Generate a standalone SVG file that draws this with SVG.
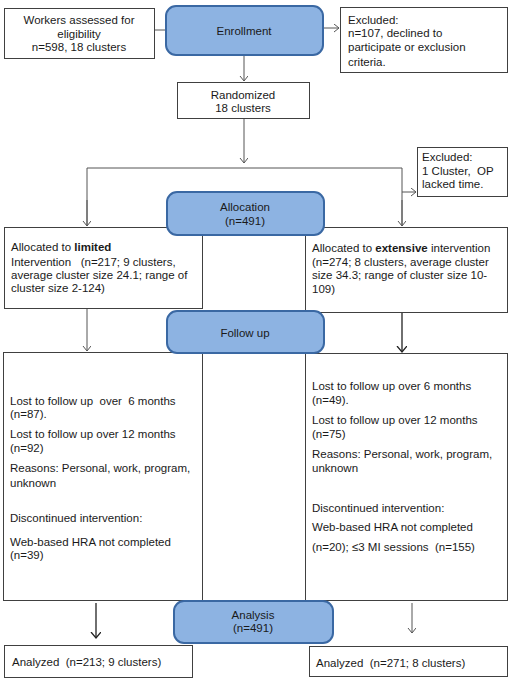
<svg xmlns="http://www.w3.org/2000/svg" width="510" height="679" viewBox="0 0 510 679">
<style>
.box{fill:#fff;stroke:#404040;stroke-width:1}
.blue{fill:#8db3e2;stroke:#3a68a3;stroke-width:2}
text{font-family:"Liberation Sans",Arial,sans-serif;font-size:11.5px;fill:#1a1a1a;white-space:pre}
.c{text-anchor:middle}
.ln{stroke:#555;stroke-width:1;fill:none}
.dk{stroke:#222;stroke-width:1.3;fill:none}
</style>
<defs>
<marker id="ah" markerUnits="userSpaceOnUse" markerWidth="10" markerHeight="10" refX="5" refY="4" orient="auto">
<path d="M0,0 L5,4 L0,8" fill="none" stroke="#555" stroke-width="1"/>
</marker>
<marker id="ahd" markerUnits="userSpaceOnUse" markerWidth="12" markerHeight="12" refX="6" refY="5" orient="auto">
<path d="M0,0 L6,5 L0,10" fill="none" stroke="#222" stroke-width="1.3"/>
</marker>
</defs>
<g id="workers"><rect class="box" x="4.5" y="8.5" width="150" height="50"/>
<text class="c" x="79" y="24">Workers assessed for</text>
<text class="c" x="79" y="38">eligibility</text>
<text class="c" x="79" y="51">n=598, 18 clusters</text></g>
<g id="excluded1"><rect class="box" x="340.5" y="7.5" width="167" height="65"/>
<text x="348" y="24">Excluded:</text>
<text x="348" y="37">n=107, declined to</text>
<text x="348" y="51">participate or exclusion</text>
<text x="348" y="66">criteria.</text></g>
<g id="randomized"><rect class="box" x="177.5" y="82.5" width="132" height="36"/>
<text class="c" x="243" y="99">Randomized</text>
<text class="c" x="243" y="112">18 clusters</text></g>
<g id="excluded2"><rect class="box" x="417.5" y="147.5" width="90" height="49"/>
<text x="422" y="161">Excluded:</text>
<text x="422" y="175">1 Cluster,  OP</text>
<text x="422" y="188">lacked time.</text></g>
<g id="limited"><rect class="box" x="4.5" y="227.5" width="198" height="81"/>
<text x="11" y="251">Allocated to <tspan font-weight="bold">limited</tspan></text>
<text x="11" y="266">Intervention   (n=217; 9 clusters,</text>
<text x="11" y="279">average cluster size 24.1; range of</text>
<text x="11" y="292">cluster size 2-124)</text></g>
<g id="extensive"><rect class="box" x="305.5" y="227.5" width="202" height="85"/>
<text x="312" y="252">Allocated to <tspan font-weight="bold">extensive</tspan> intervention</text>
<text x="312" y="266">(n=274; 8 clusters, average cluster</text>
<text x="312" y="279">size 34.3; range of cluster size 10-</text>
<text x="312" y="293">109)</text></g>
<g id="followLeft"><rect class="box" x="3.5" y="352.5" width="199" height="248"/>
<text x="10" y="405">Lost to follow up  over  6 months</text>
<text x="10" y="418">(n=87).</text>
<text x="10" y="438">Lost to follow up over 12 months</text>
<text x="10" y="452">(n=92)</text>
<text x="10" y="472">Reasons: Personal, work, program,</text>
<text x="10" y="487">unknown</text>
<text x="10" y="522">Discontinued intervention:</text>
<text x="10" y="546">Web-based HRA not completed</text>
<text x="10" y="559">(n=39)</text></g>
<g id="followRight"><rect class="box" x="305.5" y="353.5" width="202" height="247"/>
<text x="312" y="390">Lost to follow up over 6 months</text>
<text x="312" y="404">(n=49).</text>
<text x="312" y="424">Lost to follow up over 12 months</text>
<text x="312" y="438">(n=75)</text>
<text x="312" y="458">Reasons: Personal, work, program,</text>
<text x="312" y="472">unknown</text>
<text x="312" y="512">Discontinued intervention:</text>
<text x="312" y="531">Web-based HRA not completed</text>
<text x="312" y="551">(n=20); ≤3 MI sessions  (n=155)</text></g>
<g id="analyzedLeft"><rect class="box" x="4.5" y="645.5" width="188" height="32"/>
<text x="12" y="666">Analyzed  (n=213; 9 clusters)</text></g>
<g id="analyzedRight"><rect class="box" x="309.5" y="646.5" width="198" height="30"/>
<text x="316" y="667">Analyzed  (n=271; 8 clusters)</text></g>
<g id="connectors">
<line class="ln" x1="155" y1="30" x2="165" y2="30"/>
<line class="ln" x1="324" y1="28" x2="339" y2="28" marker-end="url(#ah)"/>
<line class="ln" x1="244" y1="56" x2="244" y2="81" marker-end="url(#ah)"/>
<line class="ln" x1="244" y1="119" x2="244" y2="163" marker-end="url(#ah)"/>
<polyline class="ln" points="87,226 87,168 402,168 402,226"/>
<line class="ln" x1="87" y1="200" x2="87" y2="226" marker-end="url(#ah)"/>
<line class="ln" x1="402" y1="200" x2="402" y2="226" marker-end="url(#ah)"/>
<line class="ln" x1="402" y1="192" x2="416" y2="192" marker-end="url(#ah)"/>
<line class="ln" x1="87" y1="309" x2="87" y2="351" marker-end="url(#ah)"/>
<line class="dk" x1="402" y1="313" x2="402" y2="352" marker-end="url(#ahd)"/>
<line class="dk" x1="96" y1="603" x2="96" y2="638" marker-end="url(#ahd)"/>
<line class="ln" x1="412" y1="603" x2="412" y2="633" marker-end="url(#ah)"/>
</g>
<g id="enrollment"><rect class="blue" x="166" y="6" width="157" height="49" rx="10"/>
<text class="c" x="244" y="35">Enrollment</text></g>
<g id="allocation"><rect class="blue" x="167" y="192" width="157" height="43" rx="10"/>
<text class="c" x="245" y="211">Allocation</text>
<text class="c" x="245" y="225">(n=491)</text></g>
<g id="followup"><rect class="blue" x="167" y="311" width="157" height="42" rx="10"/>
<text class="c" x="245" y="337">Follow up</text></g>
<g id="analysis"><rect class="blue" x="174" y="601" width="159" height="42" rx="10"/>
<text class="c" x="253" y="619">Analysis</text>
<text class="c" x="253" y="632">(n=491)</text></g>
</svg>
